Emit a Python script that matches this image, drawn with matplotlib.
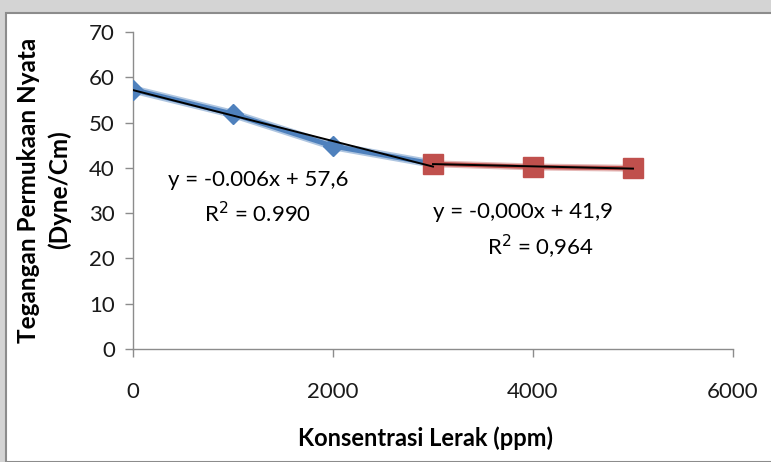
import numpy as np
import matplotlib.pyplot as plt
from matplotlib.patches import Rectangle

# data
blue_x = [0, 1000, 2000, 3000]
blue_y = [57.3, 51.9, 44.8, 40.9]
red_x = [3000, 4000, 5000]
red_y = [40.9, 40.2, 39.9]

x_ticks = [0, 2000, 4000, 6000]
y_ticks = [0, 10, 20, 30, 40, 50, 60, 70]

eq_blue = "y = -0.006x + 57,6"
r2_blue = "R$^2$ = 0.990"
eq_red = "y = -0,000x + 41,9"
r2_red = "R$^2$ = 0,964"

BLUE = "#4F81BD"
RED = "#C0504D"
FONT = "Lato"
W, H = 771, 462

fig = plt.figure(figsize=(7.71, 4.62), dpi=100)
fig.patch.set_facecolor("#d4d4d4")
# white chart area with grey frame
fig.patches.append(Rectangle((6 / W, 0), 1, 1 - 13 / H, transform=fig.transFigure,
                             facecolor="white", edgecolor="#8c8c8c", linewidth=1.5, zorder=-10))

ax = fig.add_axes([133 / W, 1 - 349 / H, 600 / W, 317 / H])
ax.set_facecolor("none")

# series lines (with a soft glow like the original)
ax.plot(blue_x, blue_y, color=BLUE, lw=6, alpha=0.45, solid_capstyle="round", zorder=2)
ax.plot(blue_x, blue_y, color=BLUE, lw=3.5, marker="D", markersize=10, zorder=3)
ax.plot(red_x, red_y, color=RED, lw=5, alpha=0.4, zorder=2)
ax.plot(red_x, red_y, color=RED, lw=3, marker="s", markersize=14, zorder=4)

# linear trendlines
for xs, ys in [(blue_x, blue_y), (red_x, red_y)]:
    k, b = np.polyfit(xs, ys, 1)
    xx = np.array([xs[0], xs[-1]])
    ax.plot(xx, k * xx + b, color="black", lw=1.4, zorder=5)

ax.set_xlim(0, 6000)
ax.set_ylim(0, 70)
ax.set_xticks(x_ticks)
ax.set_yticks(y_ticks)
for side in ["top", "right"]:
    ax.spines[side].set_visible(False)
for side in ["left", "bottom"]:
    ax.spines[side].set_color("#8c8c8c")
    ax.spines[side].set_linewidth(1.0)
ax.tick_params(axis="both", colors="#8c8c8c", length=6, width=1.0,
               labelcolor="#1a1a1a", labelsize=16)
ax.tick_params(axis="x", pad=18)
ax.tick_params(axis="y", pad=7)
for lab in ax.get_xticklabels() + ax.get_yticklabels():
    lab.set_family(FONT)

fig.text(425 / W, 1 - 438 / H, "Konsentrasi Lerak (ppm)", ha="center", va="center",
         family=FONT, fontweight="bold", fontsize=17)
fig.text(44 / W, 1 - 190 / H, "Tegangan Permukaan Nyata\n(Dyne/Cm)", ha="center",
         va="center", rotation=90, family=FONT, fontweight="bold", fontsize=17.5,
         linespacing=1.35, multialignment="center")

ax.text(1250, 37.3, eq_blue, ha="center", va="center", family=FONT, fontsize=16)
ax.text(1250, 30.0, r2_blue, ha="center", va="center", family=FONT, fontsize=16)
ax.text(3900, 30.3, eq_red, ha="center", va="center", family=FONT, fontsize=16)
ax.text(4070, 22.5, r2_red, ha="center", va="center", family=FONT, fontsize=16)

fig.savefig("out.png", dpi=100)
